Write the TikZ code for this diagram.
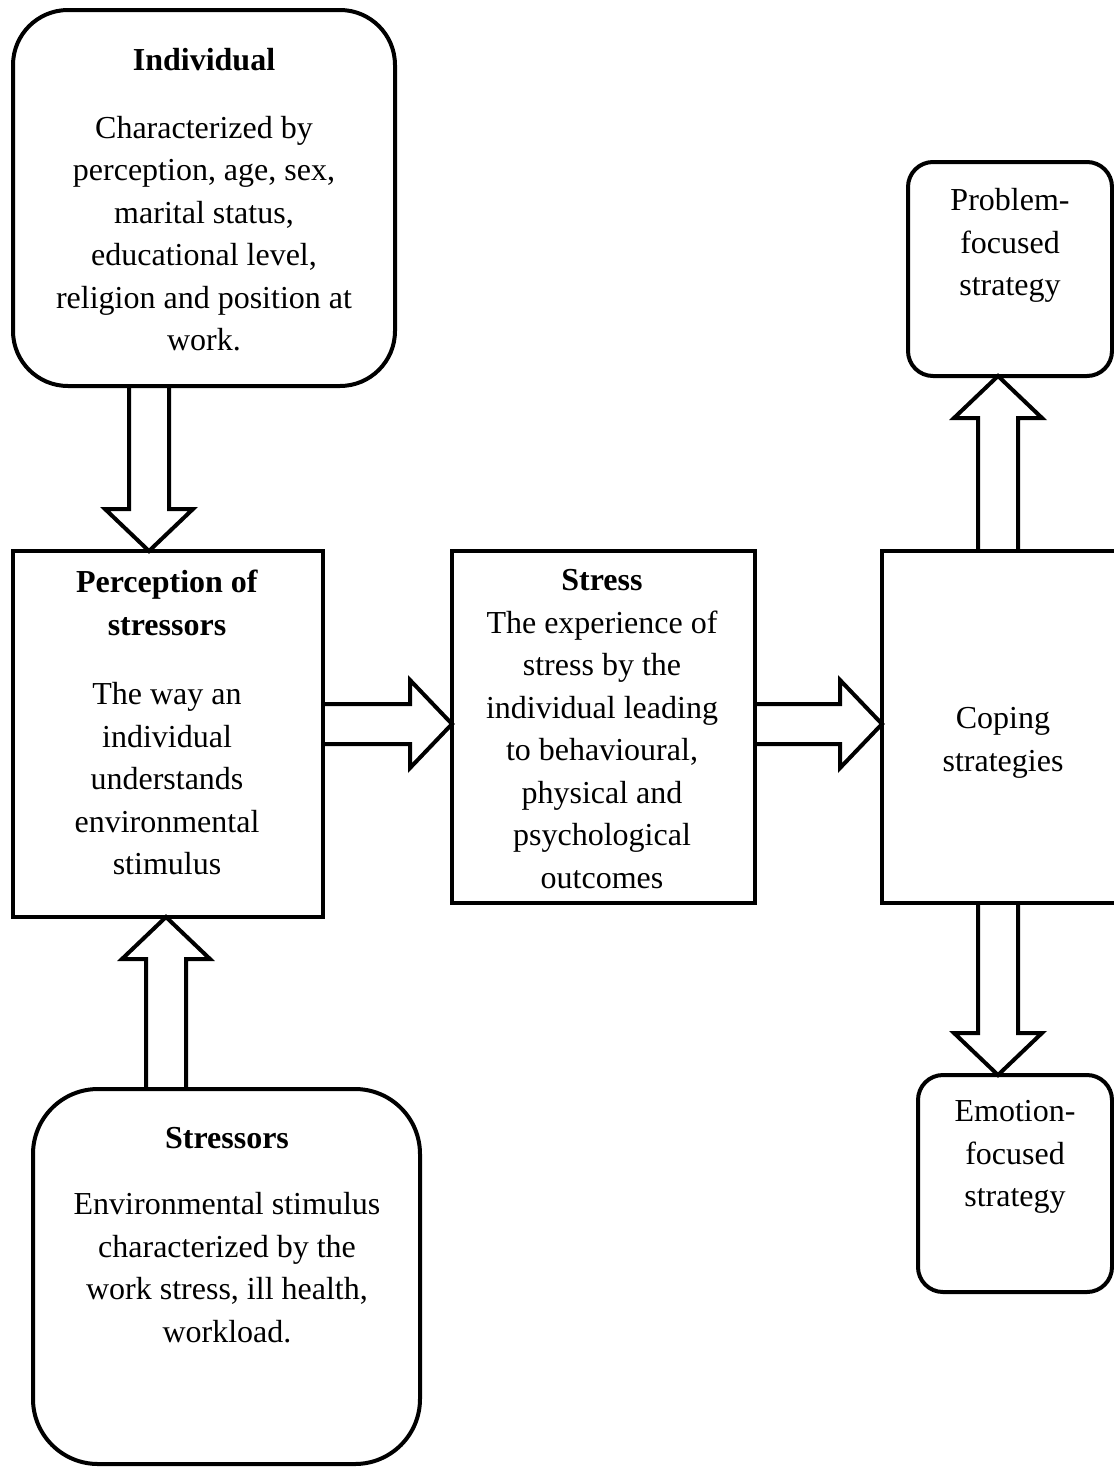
\documentclass[tikz,border=0pt]{standalone}
\usepackage{fontspec}
\setmainfont{Liberation Serif}
\usetikzlibrary{calc}
\tikzset{
  box/.style={draw, line width=4pt, inner sep=0pt, outer sep=0pt},
  rbox/.style={box, rounded corners=#1},
  txt/.style={align=center, inner sep=0pt, font=\fontsize{32}{42.5}\selectfont},
  barrow/.style={draw, line width=4pt, line join=miter},
}
\newcommand{\blockarrow}[2]{%
  \coordinate (ba-h) at ($(#2)!42pt!(#1)$);
  \draw[barrow] ($(#1)!20pt!90:(#2)$) -- ($(ba-h)!20pt!90:(#2)$) -- ($(ba-h)!44pt!90:(#2)$)
    -- (#2) -- ($(ba-h)!44pt!-90:(#2)$) -- ($(ba-h)!20pt!-90:(#2)$) -- ($(#1)!20pt!-90:(#2)$);
}
\begin{document}
\begin{tikzpicture}[x=1pt,y=-1pt]
\useasboundingbox (0,0) rectangle (1114,1468);
\clip (0,0) rectangle (1114,1468);
\fill[white] (0,0) rectangle (1114,1468);
% boxes
\node[rbox=55pt, minimum width=382pt, minimum height=376pt] (ind) at (204,198) {};
\node[box, minimum width=310pt, minimum height=366pt] (perc) at (168,734) {};
\node[box, minimum width=303pt, minimum height=352pt] (stress) at (603.5,727) {};
\node[box, minimum width=248pt, minimum height=352pt] (cope) at (1006,727) {};
\node[rbox=25pt, minimum width=204pt, minimum height=214pt] (prob) at (1010,269) {};
\node[rbox=25pt, minimum width=194pt, minimum height=217pt] (emo) at (1015,1183.5) {};
\node[rbox=65pt, minimum width=387pt, minimum height=375pt] (stre) at (226.5,1276.5) {};
% texts
\node[txt] (tind) at (204,202) {\strut\textbf{Individual}\\[25pt]Characterized by\\perception, age, sex,\\marital status,\\educational level,\\religion and position at\\work.\strut};
\node[txt] (tperc) at (167,725) {\strut\textbf{Perception of}\\\textbf{stressors}\\[27pt]The way an\\individual\\understands\\environmental\\stimulus\strut};
\node[txt] (tstress) at (602,731) {\strut\textbf{Stress}\\The experience of\\stress by the\\individual leading\\to behavioural,\\physical and\\psychological\\outcomes\strut};
\node[txt] (tcope) at (1003,741.5) {\strut Coping\\strategies\strut};
\node[txt] (tprob) at (1010,244.5) {\strut Problem-\\focused\\strategy\strut};
\node[txt] (temo) at (1015,1155.5) {\strut Emotion-\\focused\\strategy\strut};
\node[txt] (tstre) at (227,1236.5) {\strut\textbf{Stressors}\\[24pt]Environmental stimulus\\characterized by the\\work stress, ill health,\\workload.\strut};
% helper coordinates
\coordinate (c1) at (149,0);
\coordinate (c2) at (166,0);
\coordinate (c3) at (998,0);
\coordinate (r1) at (0,724);
% block arrows
\blockarrow{ind.south -| c1}{perc.north -| c1}
\blockarrow{stre.north -| c2}{perc.south -| c2}
\blockarrow{perc.east |- r1}{stress.west |- r1}
\blockarrow{stress.east |- r1}{cope.west |- r1}
\blockarrow{cope.north -| c3}{prob.south -| c3}
\blockarrow{cope.south -| c3}{emo.north -| c3}
\end{tikzpicture}
\end{document}
